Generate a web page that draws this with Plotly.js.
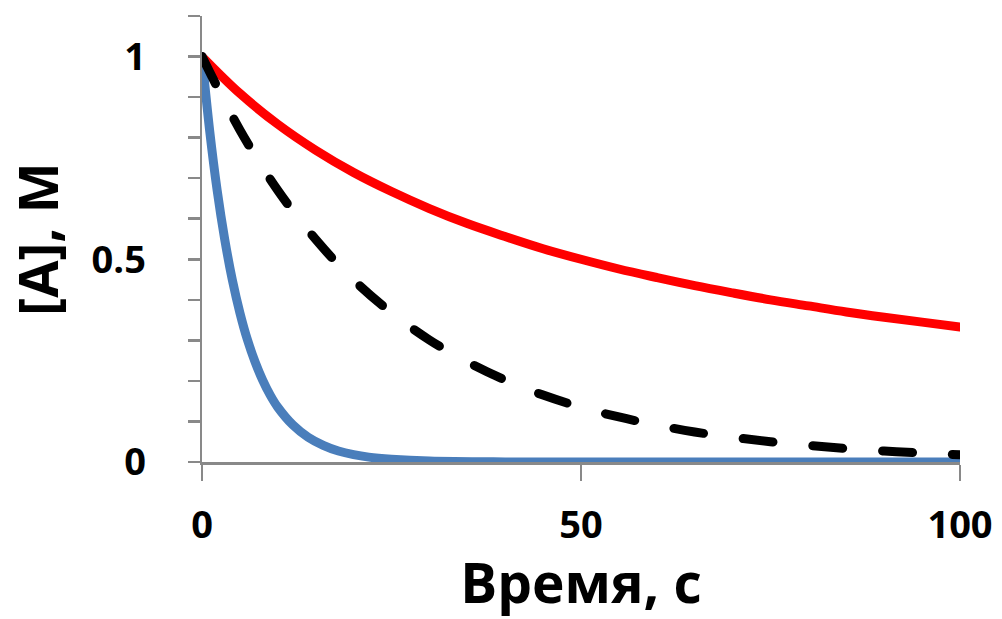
<!DOCTYPE html>
<html>
<head>
<meta charset="utf-8">
<script src="https://cdn.plot.ly/plotly-3.0.1.min.js"></script>
<style>
  html, body { margin: 0; padding: 0; background: #fff; }
  #chart { width: 1002px; height: 619px; }
  .js-line { stroke-linecap: round; stroke-linejoin: round; }
</style>
</head>
<body>
<div id="chart"></div>
<script>
// Time, s
const timeRed = [0, 5, 10, 15, 20, 25, 30, 35, 40, 45, 50, 55, 60, 65, 70, 75, 80, 85, 90, 95, 100];
const concRed = [1, 0.909, 0.833, 0.769, 0.714, 0.667, 0.625, 0.588, 0.556, 0.526, 0.5, 0.476, 0.455, 0.435, 0.417, 0.4, 0.385, 0.37, 0.357, 0.345, 0.333];

const timeBlack = [0, 5, 10, 15, 20, 25, 30, 35, 40, 45, 50, 55, 60, 65, 70, 75, 80, 85, 90, 95, 100];
const concBlack = [1, 0.819, 0.670, 0.549, 0.449, 0.368, 0.301, 0.247, 0.202, 0.165, 0.135, 0.111, 0.091, 0.074, 0.061, 0.050, 0.041, 0.033, 0.027, 0.022, 0.018];

const timeBlue = [0, 1, 2, 3, 4, 5, 6, 7, 8, 9, 10, 12, 14, 16, 18, 20, 22, 25, 30, 40, 50, 60, 80, 100];
const concBlue = [1, 0.819, 0.670, 0.549, 0.449, 0.368, 0.301, 0.247, 0.202, 0.165, 0.135, 0.091, 0.061, 0.041, 0.027, 0.018, 0.012, 0.007, 0.0025, 0.0003, 0, 0, 0, 0];

const xTickVals = [0, 50, 100];
const xTickText = ['0', '50', '100'];
const yTickVals = [0, 0.1, 0.2, 0.3, 0.4, 0.5, 0.6, 0.7, 0.8, 0.9, 1, 1.1];
const yTickText = ['0', '', '', '', '', '0.5', '', '', '', '', '1', ''];

const xTitle = 'Время, с';
const yTitle = '[A], M';

const fontFamily = '"Open Sans", "DejaVu Sans", sans-serif';
const axisGray = '#898989';

const traces = [
  {
    x: timeRed, y: concRed, mode: 'lines', type: 'scatter',
    line: { color: '#ff0000', width: 9, shape: 'spline', smoothing: 1 },
    cliponaxis: false, hoverinfo: 'skip'
  },
  {
    x: timeBlue, y: concBlue, mode: 'lines', type: 'scatter',
    line: { color: '#4a7ebb', width: 9, shape: 'spline', smoothing: 1 },
    cliponaxis: false, hoverinfo: 'skip'
  },
  {
    x: timeBlack, y: concBlack, mode: 'lines', type: 'scatter',
    line: { color: '#000000', width: 9, shape: 'spline', smoothing: 1, dash: '30px,40px' },
    cliponaxis: false, hoverinfo: 'skip'
  }
];

const layout = {
  width: 1002, height: 619,
  margin: { l: 202, r: 42, t: 16, b: 157 },
  paper_bgcolor: '#ffffff', plot_bgcolor: '#ffffff',
  showlegend: false,
  font: { family: fontFamily, color: '#000000' },
  xaxis: {
    range: [0, 100],
    tickmode: 'array', tickvals: xTickVals, ticktext: xTickText,
    ticks: 'outside', ticklen: 16, tickwidth: 2.5, tickcolor: axisGray,
    showline: true, linecolor: axisGray, linewidth: 2.5,
    showgrid: false, zeroline: false,
    tickfont: { family: fontFamily, size: 38, color: '#000', weight: 'bold' },
    ticklabelstandoff: 12,
    title: { text: xTitle, font: { family: fontFamily, size: 55, color: '#000', weight: 'bold' }, standoff: 32 },
    layer: 'below traces', automargin: false
  },
  yaxis: {
    range: [0, 1.1],
    tickmode: 'array', tickvals: yTickVals, ticktext: yTickText,
    ticks: 'outside', ticklen: 12, tickwidth: 2.5, tickcolor: axisGray,
    showline: true, linecolor: axisGray, linewidth: 2.5,
    showgrid: false, zeroline: false,
    tickfont: { family: fontFamily, size: 38, color: '#000', weight: 'bold' },
    ticklabelstandoff: 34,
    title: { text: yTitle, font: { family: fontFamily, size: 54, color: '#000', weight: 'bold' }, standoff: 22 },
    layer: 'below traces', automargin: false
  }
};

Plotly.newPlot('chart', traces, layout, { staticPlot: true, displayModeBar: false });
</script>
</body>
</html>
